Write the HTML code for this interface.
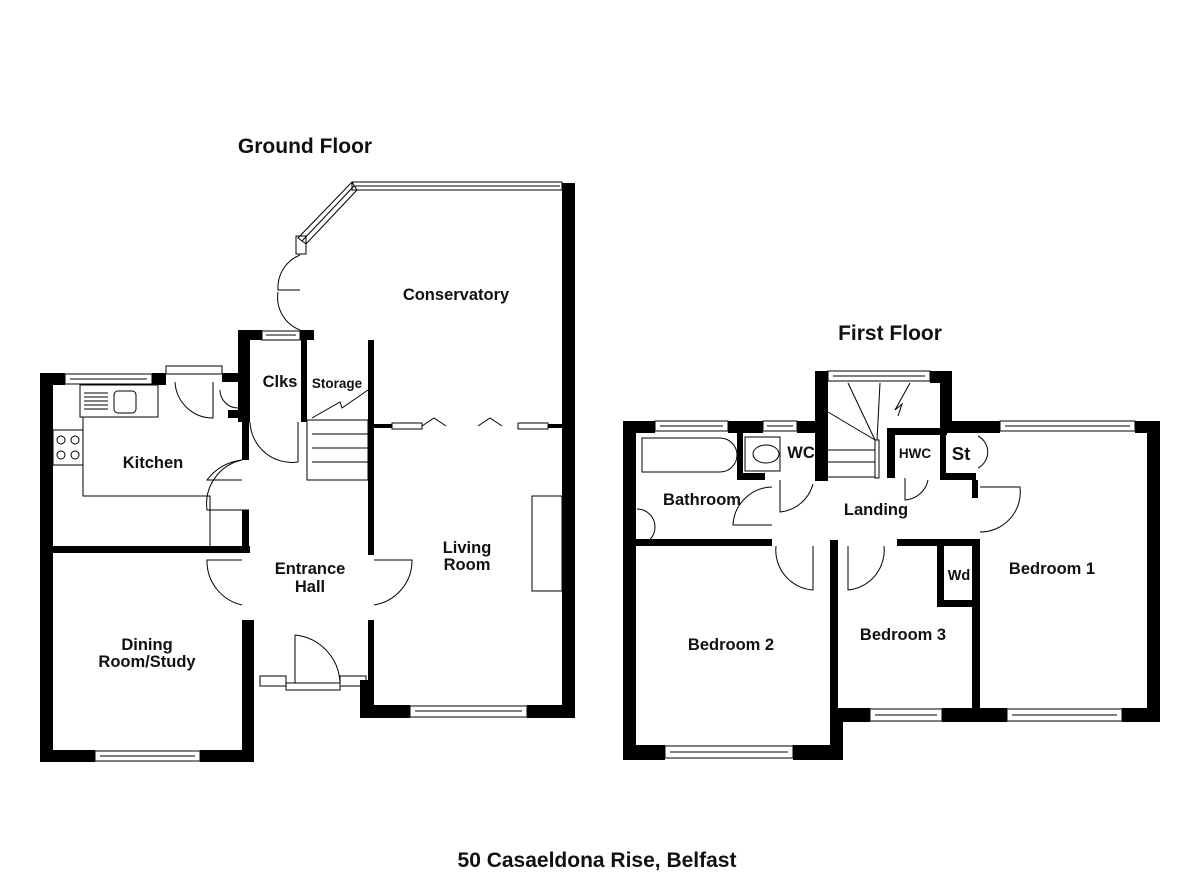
<!DOCTYPE html>
<html><head><style>
html,body{margin:0;padding:0;background:#fff;}
svg{display:block;}
text{font-family:"Liberation Sans",Arial,sans-serif;font-weight:bold;fill:#111;}
</style></head><body>
<svg width="1200" height="873" viewBox="0 0 1200 873" xmlns="http://www.w3.org/2000/svg">
<rect width="1200" height="873" fill="#fff"/>
<g fill="#000">
<rect x="40" y="373" width="13" height="389"/>
<rect x="40" y="373" width="25" height="12"/>
<rect x="152" y="373" width="14" height="12"/>
<rect x="40" y="750" width="55" height="12"/>
<rect x="200" y="750" width="54" height="12"/>
<rect x="53" y="546" width="197" height="7"/>
<rect x="242" y="422" width="7" height="38"/>
<rect x="242" y="510" width="7" height="43"/>
<rect x="242" y="620" width="12" height="142"/>
<rect x="222" y="373" width="20" height="9"/>
<rect x="228" y="410" width="14" height="8"/>
<rect x="238" y="330" width="12" height="92"/>
<rect x="238" y="330" width="24" height="10"/>
<rect x="300" y="330" width="14" height="10"/>
<rect x="301" y="330" width="6" height="92"/>
<rect x="368" y="340" width="6" height="215"/>
<rect x="368" y="620" width="6" height="60"/>
<rect x="360" y="680" width="14" height="38"/>
<rect x="374" y="705" width="36" height="13"/>
<rect x="527" y="705" width="48" height="13"/>
<rect x="562" y="183" width="13" height="535"/>
<rect x="374" y="424" width="18" height="4"/>
<rect x="548" y="424" width="14" height="4"/>
<rect x="623" y="421" width="13" height="339"/>
<rect x="623" y="421" width="32" height="12"/>
<rect x="728" y="421" width="35" height="12"/>
<rect x="797" y="421" width="30" height="12"/>
<rect x="815" y="371" width="13" height="110"/>
<rect x="815" y="371" width="13" height="12"/>
<rect x="930" y="371" width="22" height="12"/>
<rect x="940" y="371" width="12" height="62"/>
<rect x="940" y="421" width="60" height="12"/>
<rect x="1135" y="421" width="25" height="12"/>
<rect x="1147" y="421" width="13" height="301"/>
<rect x="737" y="433" width="6" height="47"/>
<rect x="737" y="473" width="28" height="7"/>
<rect x="887" y="428" width="8" height="50"/>
<rect x="887" y="428" width="60" height="7"/>
<rect x="940" y="428" width="6" height="52"/>
<rect x="946" y="473" width="30" height="7"/>
<rect x="636" y="539" width="136" height="7"/>
<rect x="830" y="540" width="8" height="210"/>
<rect x="830" y="708" width="40" height="14"/>
<rect x="942" y="708" width="65" height="14"/>
<rect x="1122" y="708" width="38" height="14"/>
<rect x="636" y="745" width="29" height="15"/>
<rect x="793" y="745" width="50" height="15"/>
<rect x="836" y="708" width="7" height="52"/>
<rect x="897" y="539" width="80" height="7"/>
<rect x="972" y="539" width="8" height="171"/>
<rect x="937" y="546" width="7" height="60"/>
<rect x="937" y="600" width="40" height="7"/>
<rect x="972" y="480" width="6" height="18"/>
</g>
<g fill="none" stroke="#000" stroke-width="1">
<rect x="65" y="374" width="87" height="10"/><line x1="70" y1="379" x2="147" y2="379"/>
<rect x="95" y="751" width="105" height="10"/><line x1="100" y1="756" x2="195" y2="756"/>
<rect x="262" y="331" width="38" height="9"/><line x1="266" y1="335" x2="296" y2="335"/>
<rect x="410" y="706" width="117" height="11"/><line x1="415" y1="711" x2="522" y2="711"/>
<rect x="166" y="366" width="56" height="8"/>
<rect x="260" y="676" width="26" height="10"/><rect x="340" y="676" width="26" height="10"/>
<rect x="286" y="683" width="54" height="7"/>
<rect x="352" y="182" width="210" height="8"/><line x1="355" y1="186" x2="560" y2="186"/>
<polygon points="352,182 357,190 306,244 298,238"/>
<line x1="354" y1="186" x2="302" y2="241"/>
<rect x="296" y="236" width="10" height="18"/>
<rect x="80" y="385" width="78" height="32"/>
<rect x="114" y="391" width="22" height="22" rx="4"/>
<line x1="84" y1="393" x2="108" y2="393"/><line x1="84" y1="397" x2="108" y2="397"/><line x1="84" y1="401" x2="108" y2="401"/><line x1="84" y1="405" x2="108" y2="405"/><line x1="84" y1="409" x2="108" y2="409"/>
<polyline points="83,417 83,496 210,496 210,546"/>
<rect x="53" y="430" width="30" height="35"/>
<circle cx="61" cy="440" r="4"/><circle cx="75" cy="440" r="4"/><circle cx="61" cy="455" r="4"/><circle cx="75" cy="455" r="4"/>
<rect x="532" y="496" width="30" height="95"/>
<rect x="307" y="420" width="61" height="60"/>
<line x1="312" y1="434" x2="368" y2="434"/><line x1="312" y1="448" x2="368" y2="448"/><line x1="312" y1="462" x2="368" y2="462"/>
<polyline points="312,418 340,402 342,408 368,390"/>
<path d="M242,460 A50,50 0 0 0 207,480 L242,480"/><path d="M249,510 L207,510 A45,45 0 0 1 242,460"/>
<path d="M242,560 L207,560 A45,45 0 0 0 242,605"/>
<path d="M374,560 L412,560 A45,45 0 0 1 374,605"/>
<path d="M295,635 L295,683 M295,635 A50,50 0 0 1 340,683"/>
<path d="M250,422 A42,42 0 0 0 298,462 L298,422"/>
<path d="M175,382 A38,38 0 0 0 213,418 L213,382"/>
<path d="M220,390 A18,18 0 0 0 238,408"/>
<path d="M300,255 A35,35 0 0 0 278,290 L300,290 M300,330 A35,35 0 0 1 278,292"/>
<rect x="392" y="423" width="30" height="6"/><polyline points="422,426 434,418 446,426"/>
<polyline points="478,426 490,418 502,426"/><rect x="518" y="423" width="30" height="6"/>
<rect x="655" y="421" width="73" height="10"/><line x1="660" y1="426" x2="723" y2="426"/>
<rect x="763" y="421" width="34" height="10"/><line x1="767" y1="426" x2="793" y2="426"/>
<rect x="828" y="371" width="102" height="10"/><line x1="833" y1="376" x2="925" y2="376"/>
<rect x="1000" y="421" width="135" height="10"/><line x1="1005" y1="426" x2="1130" y2="426"/>
<rect x="665" y="746" width="128" height="12"/><line x1="670" y1="752" x2="788" y2="752"/>
<rect x="870" y="709" width="72" height="12"/><line x1="875" y1="715" x2="937" y2="715"/>
<rect x="1007" y="709" width="115" height="12"/><line x1="1012" y1="715" x2="1117" y2="715"/>
<path d="M642,438 L720,438 A16,16 0 0 1 720,472 L642,472 Z"/>
<rect x="745" y="437" width="35" height="34"/>
<ellipse cx="766" cy="454" rx="13" ry="9"/>
<path d="M637,509 A18,18 0 0 1 637,545"/>
<line x1="828" y1="412" x2="875" y2="440"/>
<line x1="848" y1="383" x2="875" y2="440"/><line x1="880" y1="383" x2="877" y2="440"/><line x1="910" y1="383" x2="895" y2="410"/>
<polyline points="895,410 902,404 898,416"/>
<line x1="828" y1="450" x2="875" y2="450"/><line x1="828" y1="462" x2="875" y2="462"/><line x1="828" y1="477" x2="875" y2="477"/>
<rect x="875" y="440" width="4" height="38"/>
<path d="M780,480 L780,512 A38,38 0 0 0 813,484"/>
<path d="M772,487 A40,40 0 0 0 733,525 L772,525"/>
<path d="M776,546 A40,40 0 0 0 813,590 L813,546"/>
<path d="M848,546 L848,590 A40,40 0 0 0 884,546"/>
<path d="M905,478 L905,500 A25,25 0 0 0 928,480"/>
<path d="M980,487 L1020,487 A40,40 0 0 1 980,532"/>
<path d="M978,436 A18,18 0 0 1 978,468"/>
<rect x="973" y="552" width="5" height="44"/>
</g>
<text x="305" y="153" font-size="21" text-anchor="middle">Ground Floor</text>
<text x="890" y="340" font-size="21" text-anchor="middle">First Floor</text>
<text x="597" y="867" font-size="21" text-anchor="middle">50 Casaeldona Rise, Belfast</text>
<g font-size="16.5" text-anchor="middle">
<text x="456" y="300">Conservatory</text>
<text x="153" y="468">Kitchen</text>
<text x="280" y="387">Clks</text>
<text x="337" y="388" font-size="13.5">Storage</text>
<text x="310" y="574">Entrance</text><text x="310" y="592">Hall</text>
<text x="467" y="553">Living</text><text x="467" y="570">Room</text>
<text x="147" y="650">Dining</text><text x="147" y="667">Room/Study</text>
<text x="801" y="458">WC</text>
<text x="915" y="458" font-size="13.5">HWC</text>
<text x="961" y="460" font-size="18.5">St</text>
<text x="702" y="505">Bathroom</text>
<text x="876" y="515">Landing</text>
<text x="959" y="580" font-size="14.5">Wd</text>
<text x="1052" y="574">Bedroom 1</text>
<text x="731" y="650">Bedroom 2</text>
<text x="903" y="640">Bedroom 3</text>
</g>
</svg>
</body></html>
